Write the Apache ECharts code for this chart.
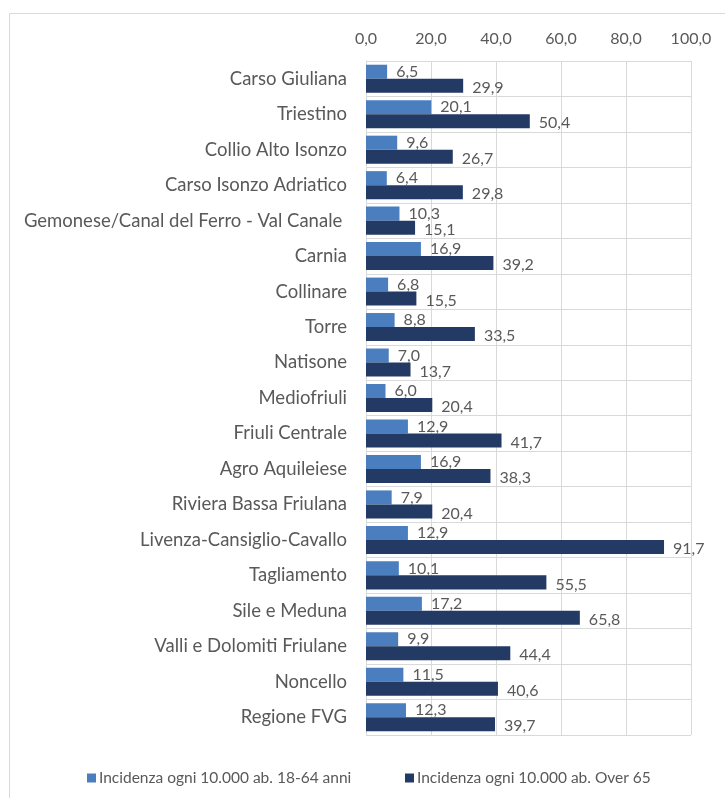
<!DOCTYPE html>
<html>
<head>
<meta charset="utf-8">
<script src="https://cdn.jsdelivr.net/npm/echarts@6/dist/echarts.min.js"></script>
<style>
  html, body { margin: 0; padding: 0; background: #ffffff; }
  #chart { width: 725px; height: 798px; }
</style>
</head>
<body>
<div id="chart"></div>
<script>
// Territorial districts, top to bottom
const categories = [
  'Carso Giuliana',
  'Triestino',
  'Collio Alto Isonzo',
  'Carso Isonzo Adriatico',
  'Gemonese/Canal del Ferro - Val Canale ',
  'Carnia',
  'Collinare',
  'Torre',
  'Natisone',
  'Mediofriuli',
  'Friuli Centrale',
  'Agro Aquileiese',
  'Riviera Bassa Friulana',
  'Livenza-Cansiglio-Cavallo',
  'Tagliamento',
  'Sile e Meduna',
  'Valli e Dolomiti Friulane',
  'Noncello',
  'Regione FVG'
];

const seriesNames = [
  'Incidenza ogni 10.000 ab. 18-64 anni',
  'Incidenza ogni 10.000 ab. Over 65'
];

// Incidence per 10,000 inhabitants, age 18-64
const adults = [6.5, 20.1, 9.6, 6.4, 10.3, 16.9, 6.8, 8.8, 7.0, 6.0, 12.9, 16.9, 7.9, 12.9, 10.1, 17.2, 9.9, 11.5, 12.3];
// Incidence per 10,000 inhabitants, over 65
const seniors = [29.9, 50.4, 26.7, 29.8, 15.1, 39.2, 15.5, 33.5, 13.7, 20.4, 41.7, 38.3, 20.4, 91.7, 55.5, 65.8, 44.4, 40.6, 39.7];

const axisMin = 0;
const axisMax = 100;
const axisStep = 20;

const FONT = 'Lato, "Liberation Sans", sans-serif';
const TEXT = '#595959';
const GRID = '#d9d9d9';
const fmt = v => v.toFixed(1).replace('.', ',');

const chart = echarts.init(document.getElementById('chart'), null, { renderer: 'canvas' });

chart.setOption({
  animation: false,
  backgroundColor: '#ffffff',
  textStyle: { fontFamily: FONT },
  graphic: [{
    type: 'rect',
    shape: { x: 9.5, y: 13.5, width: 900, height: 900 },
    style: { fill: 'none', stroke: GRID, lineWidth: 1 },
    silent: true
  }],
  grid: { left: 366, right: 34, top: 61, bottom: 63, containLabel: false },
  legend: [
    {
      data: [seriesNames[0]],
      left: 82, top: 765,
      itemWidth: 9, itemHeight: 9, itemGap: 0,
      icon: 'rect',
      textStyle: { color: TEXT, fontSize: 15.5, fontFamily: FONT, padding: [0, 0, 0, -2] }
    },
    {
      data: [seriesNames[1]],
      left: 400, top: 765,
      itemWidth: 9, itemHeight: 9, itemGap: 0,
      icon: 'rect',
      textStyle: { color: TEXT, fontSize: 15.5, fontFamily: FONT, padding: [0, 0, 0, -2] }
    }
  ],
  xAxis: {
    type: 'value',
    position: 'top',
    min: axisMin, max: axisMax, interval: axisStep,
    axisLine: { show: false },
    axisTick: { show: false },
    axisLabel: { color: TEXT, fontSize: 16, fontFamily: FONT, margin: 14, formatter: fmt },
    splitLine: { show: true, lineStyle: { color: GRID, width: 1 } }
  },
  yAxis: {
    type: 'category',
    data: categories,
    inverse: true,
    axisLine: { show: true, lineStyle: { color: GRID } },
    axisTick: { show: false },
    axisLabel: { color: TEXT, fontSize: 18.5, fontFamily: FONT, margin: 19 },
    splitLine: { show: true, lineStyle: { color: GRID, width: 1 } }
  },
  series: [
    {
      name: seriesNames[0],
      type: 'bar',
      data: adults,
      barGap: '0%',
      barCategoryGap: '21%',
      itemStyle: { color: '#4a7ebf' },
      label: {
        show: true, position: 'right', distance: 9,
        color: TEXT, fontSize: 16, fontFamily: FONT,
        formatter: p => fmt(p.value)
      }
    },
    {
      name: seriesNames[1],
      type: 'bar',
      data: seniors,
      itemStyle: { color: '#233a64' },
      label: {
        show: true, position: 'right', distance: 9, offset: [0, 2],
        color: TEXT, fontSize: 16, fontFamily: FONT,
        formatter: p => fmt(p.value)
      }
    }
  ]
});
</script>
</body>
</html>
